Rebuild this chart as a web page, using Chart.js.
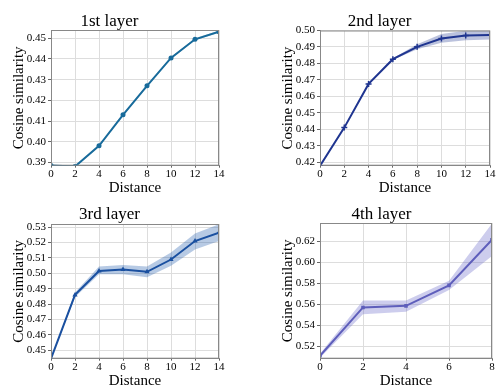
<!DOCTYPE html>
<html><head><meta charset="utf-8">
<script src="https://cdn.jsdelivr.net/npm/chart.js@4.4.1/dist/chart.umd.min.js"></script>
<style>
html,body{margin:0;padding:0;background:#fff;width:496px;height:386px;overflow:hidden;}
.c{position:absolute;}
</style></head><body>
<div class="c" style="left:0;top:0;width:248px;height:200px"><canvas id="c1"></canvas></div>
<div class="c" style="left:248px;top:0;width:248px;height:200px"><canvas id="c2"></canvas></div>
<div class="c" style="left:0;top:193px;width:248px;height:200px"><canvas id="c3"></canvas></div>
<div class="c" style="left:248px;top:193px;width:248px;height:200px"><canvas id="c4"></canvas></div>
<script>
// ---- data ----
const titles = ["1st layer", "2nd layer", "3rd layer", "4th layer"];
const dist14 = [0, 2, 4, 6, 8, 10, 12, 14];
const dist8 = [0, 2, 4, 6, 8];

const layer1Mean  = [0.3885, 0.3880, 0.3980, 0.4130, 0.4270, 0.4405, 0.4495, 0.4532];
const layer1Upper = [0.3888, 0.3883, 0.3983, 0.4133, 0.4273, 0.4409, 0.4500, 0.4537];
const layer1Lower = [0.3882, 0.3877, 0.3977, 0.4127, 0.4267, 0.4401, 0.4490, 0.4527];

const layer2Mean  = [0.4178, 0.4410, 0.4675, 0.4825, 0.4900, 0.4950, 0.4968, 0.4972];
const layer2Upper = [0.4180, 0.4412, 0.4678, 0.4830, 0.4915, 0.4978, 0.4997, 0.4999];
const layer2Lower = [0.4176, 0.4408, 0.4672, 0.4820, 0.4885, 0.4925, 0.4940, 0.4945];

const layer3Mean  = [0.4445, 0.4860, 0.5015, 0.5025, 0.5010, 0.5090, 0.5210, 0.5265];
const layer3Upper = [0.4447, 0.4875, 0.5045, 0.5055, 0.5045, 0.5135, 0.5260, 0.5320];
const layer3Lower = [0.4443, 0.4845, 0.4995, 0.4995, 0.4975, 0.5050, 0.5155, 0.5210];

const layer4Mean  = [0.5110, 0.5570, 0.5585, 0.5780, 0.6215];
const layer4Upper = [0.5130, 0.5635, 0.5635, 0.5825, 0.6370];
const layer4Lower = [0.5090, 0.5505, 0.5530, 0.5735, 0.6060];

const ticks1 = [0.39, 0.40, 0.41, 0.42, 0.43, 0.44, 0.45];
const ticks2 = [0.42, 0.43, 0.44, 0.45, 0.46, 0.47, 0.48, 0.49, 0.50];
const ticks3 = [0.45, 0.46, 0.47, 0.48, 0.49, 0.50, 0.51, 0.52, 0.53];
const ticks4 = [0.52, 0.54, 0.56, 0.58, 0.60, 0.62];

const FONT = "'Liberation Serif','DejaVu Serif',serif";

function pts(xs, ys){ return xs.map((x,i)=>({x:x, y:ys[i]})); }

function make(id, cfg){
  const xs = cfg.xs;
  new Chart(document.getElementById(id), {
    type: 'line',
    data: { datasets: [
      { data: pts(xs, cfg.upper), borderWidth:0, pointRadius:0, fill:'+1', backgroundColor: cfg.band, borderColor:'rgba(0,0,0,0)', order:2 },
      { data: pts(xs, cfg.lower), borderWidth:0, pointRadius:0, fill:false, borderColor:'rgba(0,0,0,0)', order:2 },
      { data: pts(xs, cfg.mean), borderWidth:2, borderColor: cfg.color, backgroundColor: cfg.color,
        pointRadius: cfg.pr, pointStyle: cfg.ps, pointBorderWidth: cfg.ps==='cross'?1.5:0, pointBorderColor: cfg.color, pointBackgroundColor: cfg.color, fill:false, tension:0, order:1 }
    ]},
    options: {
      responsive:true, maintainAspectRatio:false, animation:false,
      layout:{ padding:{ left: cfg.padL, right: cfg.padR, top:0, bottom:0 } },
      plugins:{
        legend:{display:false}, tooltip:{enabled:false},
        title:{ display:true, text: cfg.title, color:'#000', font:{family:FONT, size:17, weight:'normal', lineHeight:1.2},
          padding:{top:cfg.titleTop, bottom:cfg.plotTop - cfg.titleTop - 20.4} }
      },
      scales:{
        x:{ type:'linear', min:0, max: cfg.xmax,
          afterBuildTicks: s => { s.ticks = xs.map(v=>({value:v})); },
          afterFit: s => { s.height = 34.3; },
          ticks:{ color:'#000', font:{family:FONT, size:11}, padding:0, maxRotation:0, autoSkip:false },
          grid:{ color:'#dddddd', lineWidth:1, tickLength:2, tickColor:'#666', drawTicks:true },
          border:{ color:'#888', width:1 },
          title:{ display:true, text:'Distance', color:'#000', font:{family:FONT, size:15, lineHeight:1.0}, padding:{top:0,bottom:4.5} }
        },
        y:{ type:'linear', min: cfg.ymin, max: cfg.ymax,
          afterBuildTicks: s => { s.ticks = cfg.yticks.map(v=>({value:v})); },
          afterFit: s => { s.width = 51; },
          ticks:{ color:'#000', font:{family:FONT, size:11}, padding:2, autoSkip:false, callback: v => v.toFixed(2) },
          grid:{ color:'#dddddd', lineWidth:1, tickLength:3, tickColor:'#666' },
          border:{ color:'#888', width:1 },
          title:{ display:true, text:'Cosine similarity', color:'#000', font:{family:FONT, size:15, lineHeight:1.2}, padding:{top:10,bottom:0} }
        }
      }
    },
    plugins:[{ id:'frame', afterDraw(ch){ const a=ch.chartArea, c=ch.ctx; c.save(); c.strokeStyle='#888'; c.lineWidth=1; c.strokeRect(a.left+0.5, a.top+0.5, a.right-a.left-1, a.bottom-a.top-1); c.restore(); } }]
  });
}

make('c1', { title:titles[0], xs:dist14, xmax:14, mean:layer1Mean, upper:layer1Upper, lower:layer1Lower,
  ymin:0.3884, ymax:0.4540, yticks:ticks1, color:'#186b9b', band:'rgba(24,107,155,0.35)', ps:'circle', pr:2.5,
  padL:0, padR:29, plotTop:30, titleTop:11.5 });
make('c2', { title:titles[1], xs:dist14, xmax:14, mean:layer2Mean, upper:layer2Upper, lower:layer2Lower,
  ymin:0.4179, ymax:0.4999, yticks:ticks2, color:'#1f3590', band:'rgba(31,53,144,0.30)', ps:'cross', pr:3,
  padL:21, padR:6, plotTop:30.5, titleTop:11.5 });
make('c3', { title:titles[2], xs:dist14, xmax:14, mean:layer3Mean, upper:layer3Upper, lower:layer3Lower,
  ymin:0.4445, ymax:0.5321, yticks:ticks3, color:'#1a50a0', band:'rgba(30,90,170,0.32)', ps:'triangle', pr:3,
  padL:0, padR:29, plotTop:31, titleTop:11.5 });
make('c4', { title:titles[3], xs:dist8, xmax:8, mean:layer4Mean, upper:layer4Upper, lower:layer4Lower,
  ymin:0.5082, ymax:0.6374, yticks:ticks4, color:'#5e5ebb', band:'rgba(100,100,200,0.32)', ps:'rect', pr:2.5,
  padL:21, padR:2, plotTop:30, titleTop:11.5 });
</script>
</body></html>
